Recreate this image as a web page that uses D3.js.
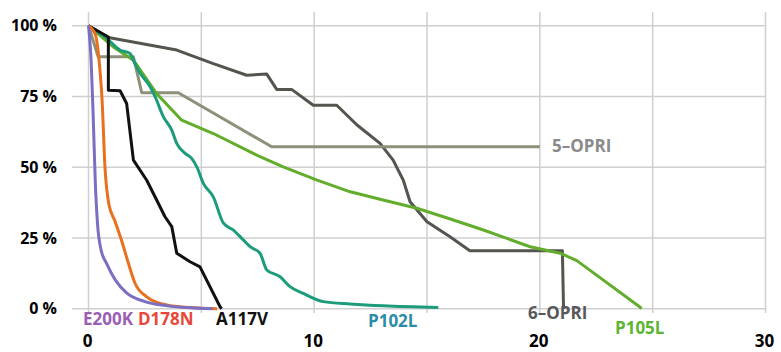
<!DOCTYPE html>
<html>
<head>
<meta charset="utf-8">
<script src="https://cdn.jsdelivr.net/npm/d3@7"></script>
<style>
  body { margin: 0; background: #fff; }
  text { font-family: "Open Sans", sans-serif; font-weight: bold; }
</style>
</head>
<body>
<div id="chart"></div>
<script>
// survival curves, x = years, y = percent
var e200k = [[0,100],[0.1,90],[0.2,70],[0.3,45],[0.4,30],[0.55,21],[0.8,16],[1.2,10],[1.7,5.5],[2.5,2.5],[3.5,1],[4.5,0.3],[5.5,0]];
var d178n = [[0,100],[0.3,97],[0.5,85],[0.6,74],[0.73,50],[0.9,37],[1.17,31],[1.47,24],[1.77,16],[2.06,9],[2.58,4.2],[3.47,1.3],[4.5,0.4],[5.7,0]];
var a117v = [[0,100],[0.88,96],[0.88,77.2],[1.4,77],[1.69,72.5],[1.99,52.5],[2.58,45.4],[3.02,38.4],[3.39,32.5],[3.69,29],[3.91,19.6],[4.5,16.6],[4.94,14.8],[5.83,0.7],[5.9,0]];
var p102l = [[0,100],[0.81,95.5],[1.4,91.4],[1.84,90.2],[1.99,87.8],[2.2,84.3],[2.73,78.4],[2.95,74.9],[3.32,67.8],[3.69,63.1],[3.91,58.4],[4.28,54.9],[4.57,53.1],[4.8,50.1],[5.09,44.3],[5.53,39.5],[5.98,30.2],[6.42,27.8],[6.86,24.3],[7.16,21.9],[7.6,19.6],[7.9,13.7],[8.49,11.3],[8.93,7.8],[9.52,5.4],[10.41,2.5],[11.6,1.7],[13.07,1],[15.5,0.4]];
var opri6 = [[0,100],[0.88,95.8],[3.91,91.4],[5.53,86.6],[7.01,82.5],[7.9,82.9],[8.34,77.5],[9.0,77.5],[9.96,71.9],[11.0,71.9],[11.9,64.9],[12.92,58.4],[13.5,52.5],[13.95,45.4],[14.25,37.8],[15.0,30.7],[16.02,25.4],[16.9,20.5],[21.0,20.5],[21.05,0]];
var opri5 = [[0,100],[0.43,89],[1.99,89],[2.36,76.3],[3.98,76.3],[8.12,57.2],[20.0,57.2]];
var p105l = [[0,100],[1.1,92.5],[1.99,87.8],[3.02,76],[4.13,66.6],[5.53,61.9],[7.6,53.7],[8.63,50.1],[10.1,45.5],[11.6,41.3],[13.1,38.3],[14.55,35.5],[16,31.8],[17.5,27.8],[19.57,21.9],[20.9,19.6],[21.64,17],[24.45,0.5],[24.5,0]];

var xTicks = [0, 10, 20, 30];
var xGrid = [0, 5, 10, 15, 20, 25, 30];
var yTicks = [0, 25, 50, 75, 100];

var series = [
  { name: "6\u2013OPRI", data: opri6, color: "#55554f", smooth: false },
  { name: "5\u2013OPRI", data: opri5, color: "#8e9079", smooth: false },
  { name: "P105L", data: p105l, color: "#62ad2c", smooth: false },
  { name: "P102L", data: p102l, color: "#1d9c7c", smooth: true },
  { name: "A117V", data: a117v, color: "#111111", smooth: false },
  { name: "D178N", data: d178n, color: "#e8701f", smooth: true },
  { name: "E200K", data: e200k, color: "#7a6fc2", smooth: true }
];

// labels: name, x, y (pixel), color
var labels = [
  { text: "E200K", x: 83, y: 325, color: "#9a5fb4" },
  { text: "D178N", x: 138, y: 325, color: "#e8473a" },
  { text: "A117V", x: 216, y: 325, color: "#111" },
  { text: "P102L", x: 368, y: 327, color: "#2b8ea6" },
  { text: "6\u2013OPRI", x: 528, y: 319, color: "#58585a" },
  { text: "P105L", x: 615, y: 334, color: "#5db533" },
  { text: "5\u2013OPRI", x: 552, y: 152, color: "#8a8a8a" }
];

var width = 781, height = 352;

var svg = d3.select("#chart").append("svg")
  .attr("width", width)
  .attr("height", height);

var x = d3.scaleLinear().domain([0, 30]).range([88.5, 765.5]);
var y = d3.scaleLinear().domain([0, 100]).range([308.7, 25.7]);

// grid
svg.append("g").selectAll("line.h")
  .data(yTicks).enter().append("line")
  .attr("x1", 72).attr("x2", x(30))
  .attr("y1", function (d) { return y(d); })
  .attr("y2", function (d) { return y(d); })
  .attr("stroke", "#cfcfcf").attr("stroke-width", 1.5);

svg.append("g").selectAll("line.v")
  .data(xGrid).enter().append("line")
  .attr("x1", function (d) { return x(d); })
  .attr("x2", function (d) { return x(d); })
  .attr("y1", 12).attr("y2", 313)
  .attr("stroke", "#cfcfcf").attr("stroke-width", 1.5);

// axis labels
svg.append("g").selectAll("text")
  .data(yTicks).enter().append("text")
  .attr("x", 57)
  .attr("y", function (d) { return y(d); })
  .attr("dy", "0.36em")
  .attr("text-anchor", "end")
  .style("font-size", "16px")
  .text(function (d) { return d + " %"; });

svg.append("g").selectAll("text")
  .data(xTicks).enter().append("text")
  .attr("x", function (d) { return x(d) - 1; })
  .attr("y", 347)
  .attr("text-anchor", "middle")
  .style("font-size", "17px")
  .text(function (d) { return d; });

// curves
var line = d3.line()
  .x(function (d) { return x(d[0]); })
  .y(function (d) { return y(d[1]); });

svg.append("g").selectAll("path")
  .data(series).enter().append("path")
  .attr("d", function (d) {
    return line.curve(d.smooth ? d3.curveMonotoneX : d3.curveLinear)(d.data);
  })
  .attr("fill", "none")
  .attr("stroke", function (d) { return d.color; })
  .attr("stroke-width", 3)
  .attr("stroke-linejoin", "round");

// series names
svg.append("g").selectAll("text")
  .data(labels).enter().append("text")
  .attr("x", function (d) { return d.x; })
  .attr("y", function (d) { return d.y; })
  .style("font-size", "17px")
  .style("fill", function (d) { return d.color; })
  .text(function (d) { return d.text; });
</script>
</body>
</html>
